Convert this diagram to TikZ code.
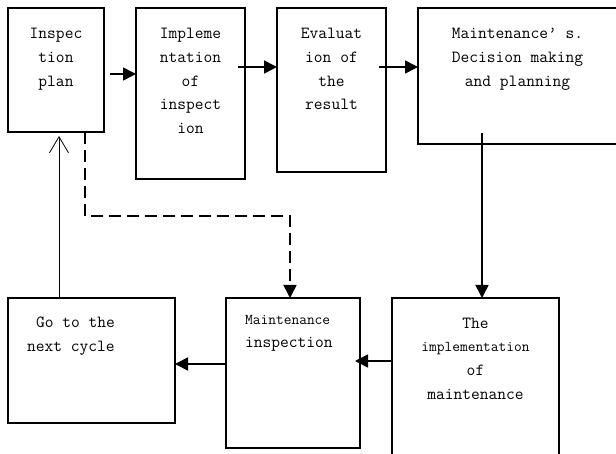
\documentclass[tikz,border=0pt]{standalone}
\usetikzlibrary{arrows.meta}
\newcommand{\smallmono}{\fontsize{15}{23.5}\selectfont}
\begin{document}
\begin{tikzpicture}[x=1pt,y=-1pt,
  box/.style={draw, line width=1.5pt, inner sep=0pt, outer sep=0pt, anchor=north west},
  txt/.style={font=\fontsize{17}{23.8}\selectfont\ttfamily, align=center, anchor=base, inner sep=0pt},
  arr/.style={line width=1.6pt, -{Triangle[length=13pt,width=13pt]}},
  dasharr/.style={line width=1.6pt, dash pattern=on 12pt off 6pt, -{Triangle[length=13pt,width=13pt]}},
  thinarr/.style={line width=0.8pt, -{Straight Barb[length=16pt,width=19pt,line width=0.8pt]}}]
\useasboundingbox (0,0) rectangle (616,454);
% boxes
\node[box, minimum width=96pt,  minimum height=124pt] (b1) at (8,8) {};
\node[box, minimum width=109pt, minimum height=171pt] (b2) at (136,8) {};
\node[box, minimum width=109pt, minimum height=164pt] (b3) at (277,8) {};
\node[box, minimum width=199pt, minimum height=136pt] (b4) at (418,8) {};
\node[box, minimum width=167pt, minimum height=125pt] (b5) at (8,298) {};
\node[box, minimum width=134pt, minimum height=150pt] (b6) at (226,298) {};
\node[box, minimum width=167pt, minimum height=170pt] (b7) at (392,298) {};
% texts (anchor base = baseline of last line)
\node[txt] (t1) at (56,86.1) {Inspec\\tion\\plan};
\node[txt] (t2) at (190.5,133.7) {Impleme\\ntation\\of\\inspect\\ion};
\node[txt] (t3) at (331.5,109.9) {Evaluat\\ion of\\the\\result};
\node[txt] (t4) at (517.5,86.1) {Maintenance’ s.\\Decision making\\and planning};
\node[txt, align=left, anchor=base west] (t5) at (27,351.8) {\hspace*{9pt}Go to the\\next cycle};
\node[txt, align=left, anchor=base west] (t6) at (245,348) {{\smallmono Maintenance}\\inspection};
\node[txt] (t7) at (475.5,399.4) {The\\{\smallmono implementation}\\of\\maintenance};
% connectors
\coordinate (a1) at (110,74);
\coordinate (a2) at (238,67);
\coordinate (a3) at (379,67);
\coordinate (a4) at (482,133);
\coordinate (a5) at (392,361);
\coordinate (a5e) at (355,361);
\coordinate (a6) at (0,364);
\coordinate (up) at (59,0);
\coordinate (d1) at (85,216);
\coordinate (d2) at (290,216);
\draw[arr] (a1) -- (a1 -| b2.west);
\draw[arr] (a2) -- (a2 -| b3.west);
\draw[arr] (a3) -- (a3 -| b4.west);
\draw[arr] (a4) -- (a4 |- b7.north);
\draw[arr] (b7.west |- a5) -- (a5e);
\draw[arr] (b6.west |- a6) -- (b5.east |- a6);
\draw[thinarr] (up |- b5.north) -- ([yshift=-4pt]up |- b1.south);
\draw[dasharr] (d1 |- b1.south) -- (d1) -- (d2) -- (d2 |- b6.north);
\end{tikzpicture}
\end{document}
